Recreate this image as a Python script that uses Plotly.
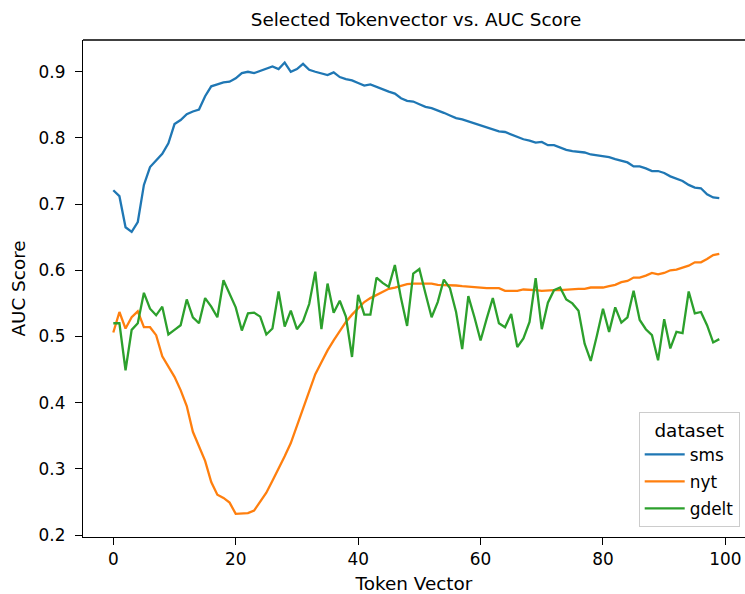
import plotly.graph_objects as go

token_vector = list(range(100))

sms = [0.721, 0.712, 0.665, 0.658, 0.673, 0.729, 0.756, 0.766, 0.776, 0.792,
       0.821, 0.827, 0.836, 0.840, 0.843, 0.863, 0.878, 0.881, 0.884, 0.885,
       0.890, 0.898, 0.900, 0.898, 0.901, 0.904, 0.908, 0.904, 0.914, 0.900,
       0.904, 0.912, 0.903, 0.900, 0.897, 0.895, 0.899, 0.892, 0.889, 0.887,
       0.883, 0.879, 0.881, 0.877, 0.873, 0.870, 0.867, 0.860, 0.856, 0.855,
       0.851, 0.847, 0.845, 0.842, 0.838, 0.834, 0.830, 0.828, 0.825, 0.822,
       0.819, 0.817, 0.813, 0.810, 0.809, 0.805, 0.802, 0.798, 0.796, 0.793,
       0.794, 0.789, 0.789, 0.785, 0.782, 0.780, 0.779, 0.778, 0.775, 0.774,
       0.772, 0.771, 0.768, 0.765, 0.763, 0.757, 0.757, 0.754, 0.750, 0.750,
       0.747, 0.742, 0.739, 0.735, 0.729, 0.725, 0.724, 0.715, 0.710, 0.709]

nyt = [0.506, 0.537, 0.512, 0.529, 0.538, 0.514, 0.514, 0.502, 0.470, 0.455,
       0.439, 0.419, 0.395, 0.356, 0.334, 0.312, 0.280, 0.261, 0.256, 0.249,
       0.232, 0.232, 0.233, 0.237, 0.250, 0.264, 0.282, 0.300, 0.319, 0.339,
       0.365, 0.391, 0.416, 0.443, 0.461, 0.479, 0.494, 0.509, 0.522, 0.533,
       0.542, 0.552, 0.558, 0.563, 0.568, 0.572, 0.574, 0.577, 0.579, 0.580,
       0.580, 0.580, 0.580, 0.578, 0.578, 0.577, 0.577, 0.576, 0.575, 0.574,
       0.573, 0.573, 0.573, 0.573, 0.569, 0.569, 0.569, 0.571, 0.571, 0.570,
       0.569, 0.570, 0.570, 0.570, 0.571, 0.572, 0.572, 0.572, 0.574, 0.574,
       0.574, 0.576, 0.578, 0.582, 0.584, 0.589, 0.589, 0.592, 0.596, 0.594,
       0.596, 0.600, 0.601, 0.604, 0.607, 0.612, 0.612, 0.617, 0.623, 0.625]

gdelt = [0.520, 0.520, 0.449, 0.510, 0.520, 0.566, 0.542, 0.532, 0.545, 0.503,
         0.510, 0.517, 0.556, 0.529, 0.520, 0.558, 0.545, 0.529, 0.585, 0.565,
         0.544, 0.509, 0.535, 0.536, 0.530, 0.503, 0.512, 0.568, 0.515, 0.539,
         0.511, 0.523, 0.549, 0.598, 0.511, 0.580, 0.536, 0.554, 0.530, 0.469,
         0.563, 0.533, 0.533, 0.589, 0.581, 0.575, 0.608, 0.558, 0.516, 0.595,
         0.602, 0.565, 0.529, 0.552, 0.586, 0.573, 0.537, 0.481, 0.561, 0.529,
         0.494, 0.527, 0.558, 0.520, 0.514, 0.534, 0.484, 0.497, 0.522, 0.588,
         0.511, 0.551, 0.570, 0.574, 0.556, 0.550, 0.539, 0.489, 0.463, 0.501,
         0.542, 0.507, 0.544, 0.521, 0.529, 0.569, 0.525, 0.511, 0.502, 0.464,
         0.526, 0.482, 0.507, 0.505, 0.568, 0.535, 0.537, 0.517, 0.491, 0.496]

series_names = ["sms", "nyt", "gdelt"]
series_values = [sms, nyt, gdelt]
colors = ["#1f77b4", "#ff7f0e", "#2ca02c"]

x_ticks = [0, 20, 40, 60, 80, 100]
y_ticks = [0.2, 0.3, 0.4, 0.5, 0.6, 0.7, 0.8, 0.9]

FONT = "DejaVu Sans"
TICK_SIZE = 16.9
LABEL_SIZE = 18.4

fig = go.Figure()
for name, vals, col in zip(series_names, series_values, colors):
    fig.add_trace(go.Scatter(x=token_vector, y=vals, mode="lines", name=name,
                             legendgroup=name,
                             line=dict(color=col, width=2.3)))

fig.update_layout(
    width=745, height=594,
    margin=dict(l=83, r=0, t=40, b=57),
    plot_bgcolor="white", paper_bgcolor="white",
    font=dict(family=FONT, size=TICK_SIZE, color="black"),
    title=dict(text="Selected Tokenvector vs. AUC Score", x=(416 / 745), xanchor="center",
               y=1 - 20 / 594, yanchor="middle",
               font=dict(family=FONT, size=LABEL_SIZE, color="black")),
    showlegend=True,
    legend=dict(
        x=0.992, y=0.02, xanchor="right", yanchor="bottom",
        bgcolor="rgba(255,255,255,0.8)", bordercolor="#cccccc", borderwidth=1,
        font=dict(family=FONT, size=TICK_SIZE, color="black"),
        title=dict(text="dataset", side="top center",
                   font=dict(family=FONT, size=LABEL_SIZE, color="black")),
        tracegroupgap=2, itemwidth=40,
    ),
    xaxis=dict(
        range=[-4.95, 103.2], tickvals=x_ticks, ticks="outside", ticklen=7, tickwidth=1.4,
        tickcolor="black", showline=True, linecolor="black", linewidth=1.4,
        showgrid=False, zeroline=False, mirror=False,
        title=dict(text="Token Vector", standoff=12, font=dict(family=FONT, size=LABEL_SIZE)),
        tickfont=dict(family=FONT, size=TICK_SIZE),
        ticklabelstandoff=0,
    ),
    yaxis=dict(
        range=[0.197, 0.948], tickvals=y_ticks, ticktext=[f"{v:.1f}" for v in y_ticks],
        ticks="outside", ticklen=7, tickwidth=1.4,
        tickcolor="black", showline=True, linecolor="black", linewidth=1.4,
        showgrid=False, zeroline=False, mirror=False,
        title=dict(text="AUC Score", standoff=8, font=dict(family=FONT, size=LABEL_SIZE)),
        tickfont=dict(family=FONT, size=TICK_SIZE),
        ticklabelstandoff=6,
    ),
)

fig.add_shape(type="line", xref="paper", yref="paper", x0=0, x1=1, y0=1, y1=1,
              line=dict(color="black", width=1.4))

fig.write_html("out.html")
